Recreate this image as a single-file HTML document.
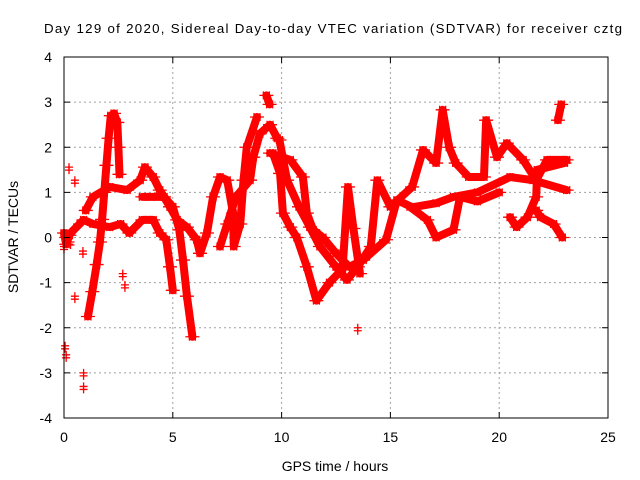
<!DOCTYPE html>
<html><head><meta charset="utf-8"><style>
body{margin:0;background:#fff}
svg{display:block;font-family:"Liberation Sans",sans-serif}
</style></head><body>
<svg id="c" width="640" height="480">
<rect width="640" height="480" fill="#fff"/>
<g id="grid"></g>
<g id="marks"></g>
<rect x="64" y="57" width="544" height="361" fill="none" stroke="#000" stroke-width="1"/>
<g id="ticks"></g>
<text x="333" y="33" font-size="13.3" text-anchor="middle" textLength="578">Day 129 of 2020, Sidereal Day-to-day VTEC variation (SDTVAR) for receiver cztg</text>
<text x="335" y="471" font-size="14" text-anchor="middle">GPS time / hours</text>
<text x="18" y="237" font-size="14" text-anchor="middle" transform="rotate(-90 18 237)">SDTVAR / TECUs</text>
</svg>
<script>
const xTicks=[0,5,10,15,20,25];
const yTicks=[-4,-3,-2,-1,0,1,2,3,4];
const trackA=[[1.1,-1.75],[1.3,-1.2],[1.5,-0.6],[1.65,-0.1],[1.75,0.4],[1.85,1.0],[1.95,1.6],[2.05,2.2],[2.15,2.7],[2.3,2.75],[2.45,2.55],[2.5,2.0],[2.55,1.4]];
const trackB=[[1.0,0.6],[1.33,0.9],[2.1,1.12],[2.9,1.05],[3.5,1.27],[3.72,1.56],[4.1,1.34],[4.4,1.05],[4.87,0.68],[5.2,0.39],[5.65,0.23],[6.1,-0.05],[6.25,-0.35],[6.57,0.1],[6.85,0.9],[7.17,1.34],[7.5,1.27],[7.77,0.54],[7.8,-0.2],[8.1,0.3],[8.25,1.27],[8.4,2.0],[8.87,2.67]];
const trackC=[[0.1,0],[0.9,0.39],[1.33,0.3],[2.1,0.23],[2.6,0.3],[3.0,0.1],[3.6,0.39],[4.1,0.39],[4.4,0.1],[4.7,-0.05],[4.87,-0.65],[5.0,-1.17]];
const trackD=[[3.6,0.9],[4.0,0.9],[4.6,0.9],[5.0,0.68],[5.3,0.17],[5.47,-0.5],[5.65,-1.3],[5.9,-2.2]];
const trackE=[[7.17,-0.2],[7.5,0.3],[7.9,0.9],[8.55,1.27],[8.7,1.78],[9.0,2.3],[9.47,2.5],[9.8,2.2],[9.9,2.16],[10.25,1.27],[10.8,0.68],[11.3,0.23],[11.76,-0.2],[12.5,-0.65],[13.0,-0.94],[13.5,-0.65],[14.1,-0.2],[14.4,1.27],[15.0,0.68],[16.0,1.12],[16.5,1.94],[17.1,1.65],[17.4,2.83],[17.7,2.0],[18.0,1.65],[18.6,1.34],[19.3,1.34],[19.4,2.6],[19.9,1.78],[20.35,2.09],[21.1,1.72],[21.7,1.27],[22.2,1.72],[23.1,1.72]];
const trackF=[[9.47,1.87],[10.4,1.72],[10.98,1.34],[11.16,0.54],[11.45,0.17],[11.9,0],[12.5,-0.35],[13.1,-0.65],[13.75,-0.5],[14.8,-0.05],[15.3,0.83],[16.0,0.67],[17.1,0.76],[17.9,0.9],[19.0,1.0],[20.5,1.34],[21.55,1.27],[23.1,1.05]];
const trackG=[[9.6,1.87],[9.93,1.42],[10.06,0.54],[10.4,0.23],[10.7,0],[11.16,-0.65],[11.6,-1.4],[12.2,-1.0],[12.8,-0.7],[13.05,1.12],[13.3,0.2],[13.6,-0.8]];
const trackH=[[15.9,0.68],[16.7,0.39],[17.1,0],[17.9,0.17],[18.2,0.9],[19.0,0.8],[20.0,1.0]];
const trackI=[[20.5,0.45],[20.8,0.23],[21.3,0.45],[21.7,0.9],[21.75,1.5],[23.0,1.65]];
const trackJ=[[21.7,0.6],[21.9,0.45],[22.5,0.3],[22.9,0.0]];
const trackK=[[22.7,2.6],[22.85,2.95]];
const trackL=[[9.3,3.15],[9.45,2.95]];
const trackM=[[0.0,0.1],[0.1,-0.15],[0.25,0.05]];
const strays=[[0.23,1.56],[0.5,1.27],[0.5,-1.3],[0.1,-2.6],[0.05,-2.4],[0.9,-3.3],[0.9,-3.0],[0.87,-0.3],[0,-0.2],[0.3,-0.1],[13.5,-2.0],[2.7,-0.8],[2.8,-1.05],[0.6,0.3]];
const tracks=[trackA,trackB,trackC,trackD,trackE,trackF,trackG,trackH,trackI,trackJ,trackK,trackL,trackM];
const X=v=>64+v*544/25, Y=v=>237.5-v*361/8;
const NS='http://www.w3.org/2000/svg';
const grid=document.getElementById('grid'),ticks=document.getElementById('ticks'),marks=document.getElementById('marks');
function mk(tag,a,p){const e=document.createElementNS(NS,tag);for(const k in a)e.setAttribute(k,a[k]);p.appendChild(e);return e;}
xTicks.forEach(t=>{const x=X(t);
 if(t>0&&t<25){const g=mk('line',{x1:x,x2:x,y1:57,y2:418,stroke:'#a0a0a0','stroke-dasharray':'2,3'},grid);
 
 }
 mk('line',{x1:x,x2:x,y1:418,y2:412,stroke:'#000'},ticks);mk('line',{x1:x,x2:x,y1:57,y2:63,stroke:'#000'},ticks);
 const l=mk('text',{x:x,y:442,'font-size':14,'text-anchor':'middle'},ticks);l.textContent=t;
 
 });
yTicks.forEach(t=>{const y=Y(t);
 if(t>-4&&t<4){const g=mk('line',{x1:64,x2:608,y1:y,y2:y,stroke:'#a0a0a0','stroke-dasharray':'2,3'},grid);
 
 }
 mk('line',{x1:64,x2:70,y1:y,y2:y,stroke:'#000'},ticks);mk('line',{x1:608,x2:602,y1:y,y2:y,stroke:'#000'},ticks);
 const l=mk('text',{x:52,y:y+5,'font-size':14,'text-anchor':'end'},ticks);l.textContent=t;
 
 });
function plus(x,y,name){const p=mk('path',{d:`M${x-4} ${y}h8M${x} ${y-4}v8`,stroke:'#f00','stroke-width':1.3},marks);
 
 }
tracks.forEach((tr,i)=>{
 const pl=mk('polyline',{points:tr.map(p=>X(p[0])+','+Y(p[1])).join(' '),fill:'none',stroke:'#f00','stroke-width':8,'stroke-linejoin':'round','stroke-linecap':'round'},marks);
 
 
 tr.forEach(p=>{plus(X(p[0])-3,Y(p[1]),'sdtvar-point');plus(X(p[0])+3,Y(p[1]),'sdtvar-point');});});
strays.forEach(p=>{plus(X(p[0]),Y(p[1]),'sdtvar-point');plus(X(p[0]),Y(p[1])+3,'sdtvar-point');});
</script>
</body></html>
